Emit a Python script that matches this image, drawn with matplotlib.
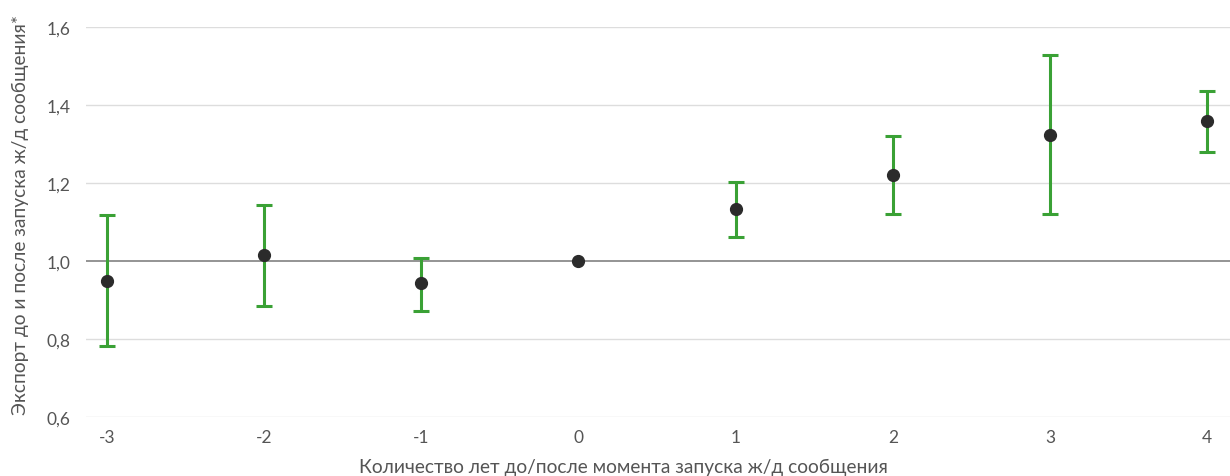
import numpy as np
import matplotlib.pyplot as plt
from matplotlib.ticker import FuncFormatter

# Export index relative to the year of rail service launch
years = [-3, -2, -1, 0, 1, 2, 3, 4]
estimate = [0.949, 1.015, 0.944, 1.0, 1.133, 1.221, 1.323, 1.359]
upper = [1.118, 1.144, 1.008, 1.0, 1.203, 1.321, 1.528, 1.436]
lower = [0.782, 0.885, 0.872, 1.0, 1.062, 1.121, 1.121, 1.279]

est = np.array(estimate)
yerr = np.vstack([est - np.array(lower), np.array(upper) - est])
has_err = yerr.sum(axis=0) > 0

plt.rcParams['font.family'] = ['Lato', 'DejaVu Sans']
text_color = '#555555'

fig = plt.figure(figsize=(12.3, 4.77), dpi=100)
ax = fig.add_axes([86 / 1230, 1 - 418 / 477, 1144 / 1230, 390 / 477])

ax.set_ylim(0.6, 1.6)
ax.set_xlim(-3.134, 4.146)
ax.set_yticks(np.arange(0.6, 1.61, 0.2))
ax.set_xticks(years)
ax.yaxis.set_major_formatter(FuncFormatter(lambda v, p: f'{v:.1f}'.replace('.', ',')))
ax.xaxis.set_major_formatter(FuncFormatter(lambda v, p: f'{int(v)}'))

for yv in np.arange(0.6, 1.61, 0.2):
    if abs(yv - 1.0) < 1e-6:
        ax.axhline(yv, color='#777777', lw=1.1, zorder=1)
    else:
        ax.axhline(yv, color='#dddddd', lw=1.0, zorder=1)

ax.errorbar(np.array(years)[has_err], est[has_err], yerr=yerr[:, has_err],
            fmt='none', ecolor='#3aa135', elinewidth=2.2, capsize=6,
            capthick=2.2, zorder=2)
ax.plot(years, estimate, 'o', color='#2b2b2b', markersize=8.5, zorder=3)

for s in ax.spines.values():
    s.set_visible(False)
ax.tick_params(length=0, labelsize=12.5, colors=text_color)
ax.tick_params(axis='y', pad=11)
ax.tick_params(axis='x', pad=9)

ax.set_xlabel('Количество лет до/после момента запуска ж/д сообщения',
              fontsize=13.8, color=text_color, va='center')
ax.set_ylabel('Экспорт до и после запуска ж/д сообщения*',
              fontsize=13.8, color=text_color, va='center')
ax.xaxis.set_label_coords(0.470, -0.126)
ax.yaxis.set_label_coords(-0.0577, 0.52)

fig.savefig('out.png', dpi=100)
